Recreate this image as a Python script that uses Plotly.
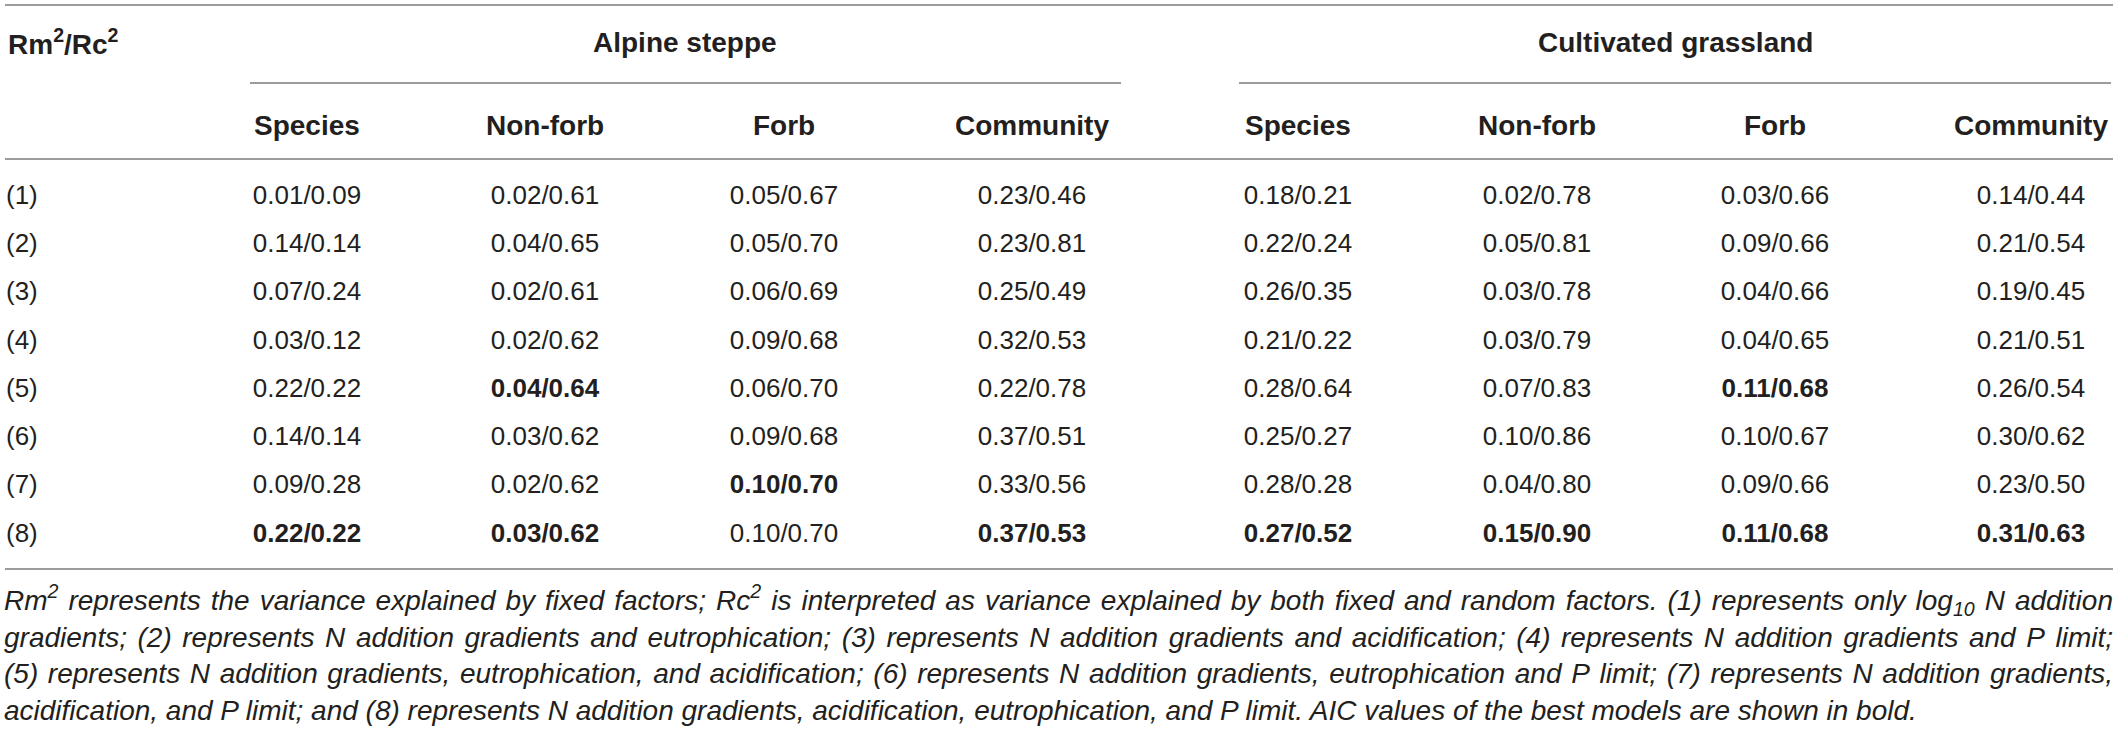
import re
import plotly.graph_objects as go

# table values (Rm2/Rc2)
models = ["(1)", "(2)", "(3)", "(4)", "(5)", "(6)", "(7)", "(8)"]
groups = ["Alpine steppe", "Cultivated grassland"]
subheads = ["Species", "Non-forb", "Forb", "Community"]

alpine_species = ["0.01/0.09", "0.14/0.14", "0.07/0.24", "0.03/0.12", "0.22/0.22", "0.14/0.14", "0.09/0.28", "0.22/0.22"]
alpine_nonforb = ["0.02/0.61", "0.04/0.65", "0.02/0.61", "0.02/0.62", "0.04/0.64", "0.03/0.62", "0.02/0.62", "0.03/0.62"]
alpine_forb = ["0.05/0.67", "0.05/0.70", "0.06/0.69", "0.09/0.68", "0.06/0.70", "0.09/0.68", "0.10/0.70", "0.10/0.70"]
alpine_community = ["0.23/0.46", "0.23/0.81", "0.25/0.49", "0.32/0.53", "0.22/0.78", "0.37/0.51", "0.33/0.56", "0.37/0.53"]
cult_species = ["0.18/0.21", "0.22/0.24", "0.26/0.35", "0.21/0.22", "0.28/0.64", "0.25/0.27", "0.28/0.28", "0.27/0.52"]
cult_nonforb = ["0.02/0.78", "0.05/0.81", "0.03/0.78", "0.03/0.79", "0.07/0.83", "0.10/0.86", "0.04/0.80", "0.15/0.90"]
cult_forb = ["0.03/0.66", "0.09/0.66", "0.04/0.66", "0.04/0.65", "0.11/0.68", "0.10/0.67", "0.09/0.66", "0.11/0.68"]
cult_community = ["0.14/0.44", "0.21/0.54", "0.19/0.45", "0.21/0.51", "0.26/0.54", "0.30/0.62", "0.23/0.50", "0.31/0.63"]

# rows (0-based) shown in bold = best models by AIC
best_alpine_species = [7]
best_alpine_nonforb = [4, 7]
best_alpine_forb = [6]
best_alpine_community = [7]
best_cult_species = [7]
best_cult_nonforb = [7]
best_cult_forb = [4, 7]
best_cult_community = [7]

footnote_lines = [
    "Rm<sup>2</sup> represents the variance explained by fixed factors; Rc<sup>2</sup> is interpreted as variance explained by both fixed and random factors. (1) represents only log<sub>10</sub> N addition",
    "gradients; (2) represents N addition gradients and eutrophication; (3) represents N addition gradients and acidification; (4) represents N addition gradients and P limit;",
    "(5) represents N addition gradients, eutrophication, and acidification; (6) represents N addition gradients, eutrophication and P limit; (7) represents N addition gradients,",
    "acidification, and P limit; and (8) represents N addition gradients, acidification, eutrophication, and P limit. AIC values of the best models are shown in bold.",
]

W, H = 2118, 735
TXT = "#231f20"
RULE = "#9c9c9c"
FONT = "Liberation Sans, Arial, sans-serif"
NOTE_SIZE = 28
NOTE_X0, NOTE_X1 = 4, 2113

col_x = [307, 545, 784, 1032, 1298, 1537, 1775, 2031]
row_y = [197, 245, 293, 342, 390, 438, 486, 535]
columns = [
    (alpine_species, best_alpine_species),
    (alpine_nonforb, best_alpine_nonforb),
    (alpine_forb, best_alpine_forb),
    (alpine_community, best_alpine_community),
    (cult_species, best_cult_species),
    (cult_nonforb, best_cult_nonforb),
    (cult_forb, best_cult_forb),
    (cult_community, best_cult_community),
]

# Arial / Liberation Sans advance widths (1/1000 em), used to justify the footnote
CHAR_W = {" ": 278, "(": 333, ")": 333, ",": 278, "-": 333, ".": 278, "/": 278, ";": 278}
CHAR_W.update({d: 556 for d in "0123456789"})
CHAR_W.update(dict(zip("ABCDEFGHIJKLMNOPQRSTUVWXYZ",
                       [667, 667, 722, 722, 667, 611, 778, 722, 278, 500, 667, 556, 833,
                        722, 778, 667, 778, 722, 667, 611, 722, 667, 944, 667, 667, 611])))
CHAR_W.update(dict(zip("abcdefghijklmnopqrstuvwxyz",
                       [556, 556, 500, 556, 556, 278, 556, 556, 222, 222, 500, 222, 833,
                        556, 556, 556, 556, 333, 500, 278, 556, 500, 722, 500, 500, 500])))


def word_width(word, size):
    total, scale = 0.0, 1.0
    for tok in re.split(r"(</?su[bp]>)", word):
        if tok in ("<sup>", "<sub>"):
            scale = 0.7
        elif tok in ("</sup>", "</sub>"):
            scale = 1.0
        else:
            total += sum(CHAR_W.get(c, 556) for c in tok) * scale
    return total * size / 1000.0


fig = go.Figure()

for x, (vals, best) in zip(col_x, columns):
    txt = [f"<b>{v}</b>" if i in best else v for i, v in enumerate(vals)]
    fig.add_trace(go.Scatter(
        x=[x] * len(vals), y=row_y, mode="text", text=txt,
        textposition="middle center",
        textfont=dict(family=FONT, size=26, color=TXT),
        hoverinfo="skip", showlegend=False,
    ))

fig.add_trace(go.Scatter(
    x=[6] * len(models), y=row_y, mode="text", text=models,
    textposition="middle right",
    textfont=dict(family=FONT, size=26, color=TXT),
    hoverinfo="skip", showlegend=False,
))

# footnote: justified lines laid out word by word (same baseline for every word)
nx, ny, nt, npos = [], [], [], []
for k, line in enumerate(footnote_lines):
    y = 603 + k * 36.7
    if k == len(footnote_lines) - 1:
        nx.append(NOTE_X0); ny.append(y); nt.append(f"<i>{line}</i>"); npos.append("middle right")
        continue
    words = line.split(" ")
    widths = [word_width(w, NOTE_SIZE) for w in words]
    gap = (NOTE_X1 - NOTE_X0 - sum(widths)) / (len(words) - 1)
    x = NOTE_X0
    for j, (w, ww) in enumerate(zip(words, widths)):
        last = j == len(words) - 1
        nx.append(NOTE_X1 if last else x)
        ny.append(y)
        nt.append(f"<i>{w}</i>")
        npos.append("middle left" if last else "middle right")
        x += ww + gap

fig.add_trace(go.Scatter(
    x=nx, y=ny, mode="text", text=nt, textposition=npos,
    textfont=dict(family=FONT, size=NOTE_SIZE, color=TXT),
    hoverinfo="skip", showlegend=False,
))

ann = []
ann.append(dict(x=7, y=42, text="<b>Rm<sup>2</sup>/Rc<sup>2</sup></b>", xanchor="left",
                font=dict(family=FONT, size=28, color=TXT)))
for gx, g in zip([685, 1675], groups):
    ann.append(dict(x=gx, y=42, text=f"<b>{g}</b>", xanchor="center",
                    font=dict(family=FONT, size=28, color=TXT)))
for i, x in enumerate(col_x):
    ann.append(dict(x=x, y=125, text=f"<b>{subheads[i % 4]}</b>", xanchor="center",
                    font=dict(family=FONT, size=28, color=TXT)))
for a in ann:
    a.update(xref="x", yref="y", yanchor="middle", showarrow=False, borderpad=0)

shapes = []
for (x0, x1, y) in [(5, 2113, 5), (250, 1121, 83), (1239, 2111, 83), (5, 2113, 159), (5, 2113, 569)]:
    shapes.append(dict(type="line", xref="x", yref="y", x0=x0, x1=x1, y0=y, y1=y,
                       line=dict(color=RULE, width=2)))

fig.update_layout(
    width=W, height=H,
    margin=dict(l=0, r=0, t=0, b=0),
    paper_bgcolor="white", plot_bgcolor="white",
    xaxis=dict(range=[0, W], visible=False, fixedrange=True),
    yaxis=dict(range=[H, 0], visible=False, fixedrange=True),
    annotations=ann, shapes=shapes,
)

# drop the default page margin so the figure fills the window exactly
fig.write_html("out.html", config={"displayModeBar": False},
               post_script="document.body.style.margin='0';document.body.style.overflow='hidden';")
